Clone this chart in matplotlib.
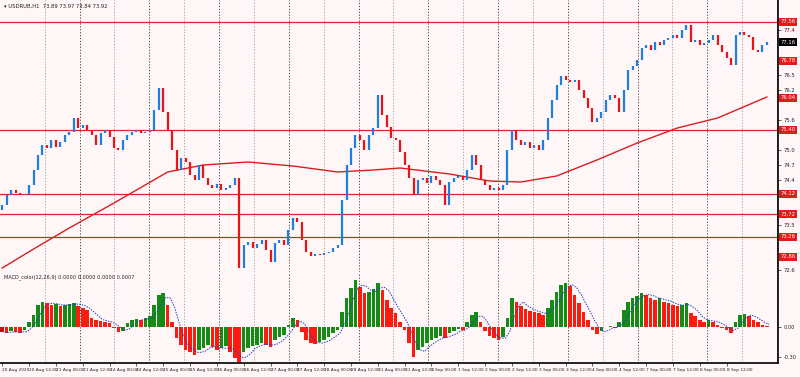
import matplotlib.pyplot as plt
import numpy as np
import pandas as pd

# closing prices, one per bar (2h bars)
close = [
    73.90, 74.10, 74.20, 74.14, 74.10, 74.12, 74.30, 74.60, 74.90, 75.10,
    75.04, 75.20, 75.06, 75.16, 75.30, 75.36, 75.64, 75.44, 75.50, 75.40,
    75.30, 75.10, 75.34, 75.40, 75.26, 75.04, 75.00, 75.20, 75.30, 75.36,
    75.40, 75.34, 75.36, 75.40, 75.80, 76.24, 75.76, 75.40, 75.00, 74.60,
    74.84, 74.76, 74.50, 74.40, 74.70, 74.44, 74.30, 74.24, 74.32, 74.20,
    74.24, 74.30, 74.44, 72.64, 73.10, 73.16, 73.04, 73.12, 73.20, 73.00,
    72.76, 73.14, 73.20, 73.10, 73.40, 73.64, 73.56, 73.20, 72.96, 72.88,
    72.92, 72.90, 72.94, 72.96, 73.04, 73.10, 74.00, 74.70, 75.04, 75.30,
    75.20, 75.00, 75.30, 75.44, 76.10, 75.70, 75.46, 75.24, 75.20, 74.96,
    74.70, 74.44, 74.10, 74.40, 74.44, 74.34, 74.48, 74.40, 74.30, 73.90,
    74.36, 74.44, 74.48, 74.40, 74.60, 74.90, 74.70, 74.40, 74.30, 74.20,
    74.24, 74.20, 74.30, 75.00, 75.40, 75.20, 75.10, 75.16, 75.04, 75.10,
    75.00, 75.20, 75.64, 76.00, 76.30, 76.48, 76.40, 76.36, 76.40, 76.20,
    76.04, 75.84, 75.56, 75.64, 75.76, 76.00, 76.10, 76.04, 75.76, 76.20,
    76.60, 76.68, 76.80, 77.04, 77.10, 77.00, 77.16, 77.10, 77.20, 77.24,
    77.30, 77.24, 77.40, 77.50, 77.16, 77.20, 77.10, 77.14, 77.20, 77.30,
    77.10, 76.96, 76.84, 76.70, 77.30, 77.36, 77.30, 77.26, 77.00, 76.96,
    77.10, 77.16,
]
first_open = 73.80

# moving average read at a few bars
ma_idx = [0, 7, 15, 25, 37, 45, 55, 65, 75, 83, 89, 100, 109, 116, 124, 133, 142, 151, 160, 171]
ma_val = [72.64, 73.02, 73.44, 73.94, 74.56, 74.70, 74.76, 74.68, 74.56, 74.60,
          74.64, 74.52, 74.38, 74.36, 74.48, 74.80, 75.14, 75.44, 75.64, 76.06]

# horizontal levels
levels = [77.56, 75.40, 74.12, 73.72, 73.26]
extra_marks = [76.78, 76.04, 72.86]

# MACD histogram
macd = [
    -0.05, -0.06, -0.04, -0.05, -0.06, -0.03, 0.05, 0.12, 0.22, 0.25,
    0.24, 0.22, 0.23, 0.21, 0.22, 0.23, 0.24, 0.21, 0.19, 0.17,
    0.09, 0.07, 0.06, 0.05, 0.04, -0.01, -0.05, -0.04, 0.04, 0.07,
    0.08, 0.07, 0.09, 0.11, 0.22, 0.32, 0.34, 0.22, 0.05, -0.11,
    -0.18, -0.23, -0.25, -0.28, -0.23, -0.21, -0.18, -0.20, -0.23, -0.21,
    -0.19, -0.25, -0.31, -0.35, -0.25, -0.21, -0.19, -0.18, -0.16, -0.18,
    -0.20, -0.13, -0.10, -0.08, 0.02, 0.09, 0.07, -0.05, -0.13, -0.16,
    -0.17, -0.15, -0.13, -0.10, -0.06, -0.03, 0.15, 0.29, 0.39, 0.47,
    0.40, 0.34, 0.35, 0.38, 0.44, 0.37, 0.27, 0.19, 0.14, 0.05,
    -0.03, -0.16, -0.30, -0.23, -0.20, -0.16, -0.13, -0.11, -0.09, -0.11,
    -0.06, -0.04, -0.02, -0.03, 0.05, 0.12, 0.15, 0.05, -0.04, -0.09,
    -0.11, -0.13, -0.10, 0.09, 0.29, 0.25, 0.21, 0.18, 0.16, 0.15,
    0.14, 0.12, 0.19, 0.27, 0.35, 0.42, 0.44, 0.41, 0.32, 0.24,
    0.15, 0.07, -0.03, -0.07, -0.04, 0.00, 0.01, -0.01, 0.05, 0.17,
    0.25, 0.29, 0.31, 0.34, 0.32, 0.29, 0.27, 0.29, 0.25, 0.24,
    0.22, 0.21, 0.22, 0.24, 0.14, 0.11, 0.07, 0.05, 0.07, 0.05,
    0.02, -0.01, -0.03, -0.06, 0.05, 0.12, 0.13, 0.11, 0.07, 0.05,
    0.02, 0.01,
]

n = len(close)
x = np.arange(n)
opens = np.array([first_open] + close[:-1])
closes = np.array(close)

times = pd.date_range("2020-08-20 00:00", periods=400, freq="2h")
times = times[times.dayofweek < 5][:n]

bg = "#fff7f7"
fig = plt.figure(figsize=(8, 3.77), dpi=100, facecolor=bg)
ax = fig.add_axes([0, 1 - 272 / 377, 778 / 800, 272 / 377], facecolor=bg)
ax2 = fig.add_axes([0, 14 / 377, 778 / 800, 90 / 377], facecolor=bg, sharex=ax)

# separators
sep_pos = np.arange(9.5, n + 2, 7.8)
for k, s in enumerate(sep_pos):
    c = "#333333" if k % 2 else "#999999"
    for a in (ax, ax2):
        a.axvline(s, color=c, lw=0.6, ls=(0, (1.5, 2)), zorder=1)

# candles
up = closes >= opens
ax.vlines(x[up], opens[up], closes[up], color="#1e7fe0", lw=1.6, zorder=3)
ax.vlines(x[~up], opens[~up], closes[~up], color="#e8141a", lw=1.6, zorder=3)

ax.plot(ma_idx, ma_val, color="#d81e1e", lw=1.0, zorder=2)
for lv in levels:
    ax.axhline(lv, color="#d42a2a", lw=0.9, zorder=2)

tags = levels + extra_marks + [close[-1]]
ticks = [t for t in np.arange(72.6, 77.9, 0.3) if min(abs(t - g) for g in tags) > 0.15]

ax.set_xlim(-0.5, n + 1.5)
ax.set_ylim(72.56, 78.0)
ax.yaxis.tick_right()
ax.set_yticks(ticks)
ax.tick_params(axis="y", labelsize=3.8, length=2, width=0.5, pad=2, colors="#222222")
ax.tick_params(axis="x", bottom=False, labelbottom=False)
for sp in ["top", "left", "bottom"]:
    ax.spines[sp].set_visible(False)
ax.spines["right"].set_linewidth(1.2)

tag_font = dict(fontsize=3.8, color="white", va="center", ha="left")
for lv in levels + extra_marks:
    ax.annotate(f"{lv:.2f}", xy=(1.0, lv), xycoords=("axes fraction", "data"),
                xytext=(2, 0), textcoords="offset points",
                bbox=dict(boxstyle="square,pad=0.25", fc="#e41b1b", ec="none"), **tag_font)
ax.annotate(f"{close[-1]:.2f}", xy=(1.0, close[-1]), xycoords=("axes fraction", "data"),
            xytext=(2, 0), textcoords="offset points",
            bbox=dict(boxstyle="square,pad=0.25", fc="black", ec="none"), **tag_font)

ax.text(0.005, 0.985, "\u25be USDRUB,H1  73.89 73.97 73.84 73.92", transform=ax.transAxes,
        fontsize=3.8, va="top", ha="left", color="#222222")

# MACD pane
col = ["#d01010"]
for i in range(1, n):
    col.append("#158a15" if macd[i] >= macd[i - 1] else "#ff1a10")
ax2.bar(x, macd, width=0.8, color=col, zorder=3)
sig = pd.Series(macd).rolling(3, min_periods=1).mean()
ax2.plot(x + 0.5, sig, color="#2040c0", lw=0.7, ls=(0, (1.5, 1.2)), zorder=4)

ax2.set_ylim(-0.36, 0.54)
ax2.yaxis.tick_right()
ax2.set_yticks([0.0, -0.30])
ax2.set_yticklabels(["0.00", "-0.30"])
ax2.tick_params(axis="y", labelsize=3.6, length=2, width=0.5, pad=2, colors="#222222")
for sp in ["top", "left"]:
    ax2.spines[sp].set_visible(False)
ax2.spines["right"].set_linewidth(1.2)
ax2.spines["bottom"].set_linewidth(1.2)
ax2.text(0.005, 0.985, "MACD_color(12,26,9) 0.0000 0.0000 0.0000 0.0007", transform=ax2.transAxes,
         fontsize=3.6, va="top", ha="left", color="#222222")

lab_idx = list(range(0, n - 4, 6))
lab_txt = []
for i in lab_idx:
    t = times[i]
    lab_txt.append(t.strftime("%d %b %Y") if i == 0 else t.strftime("%d %b %H:%M"))
ax2.set_xticks(lab_idx)
ax2.set_xticklabels([s.lstrip("0") for s in lab_txt], ha="left")
ax2.tick_params(axis="x", labelsize=3.1, length=2, width=0.5, pad=1.5, colors="#222222")

fig.savefig("out.png", dpi=100, facecolor=bg)
